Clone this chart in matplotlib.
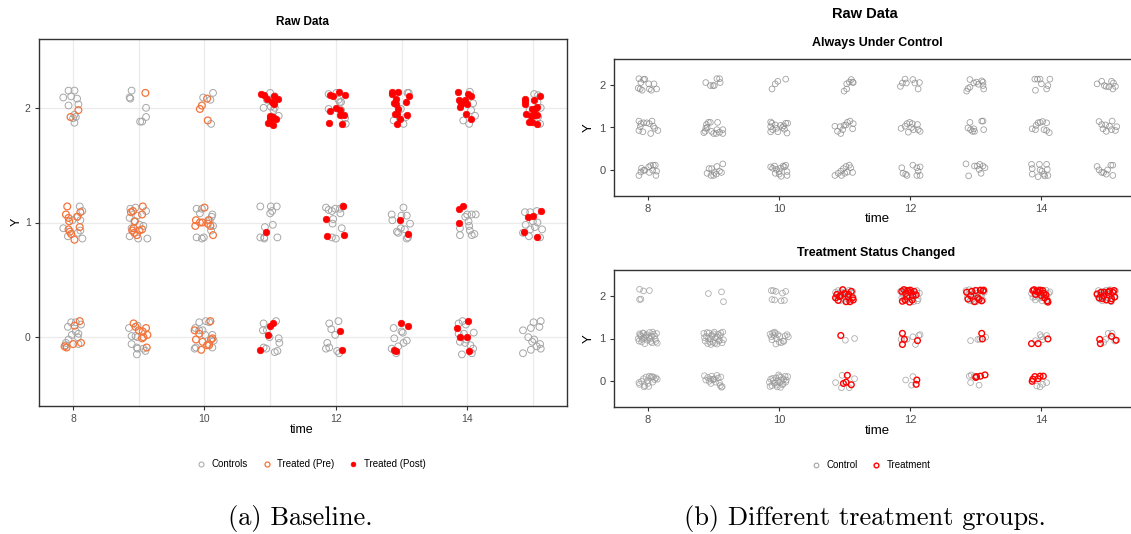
import matplotlib
matplotlib.use("Agg")
import matplotlib.pyplot as plt
from matplotlib.lines import Line2D

plt.rcParams['font.family'] = ['Liberation Sans', 'DejaVu Sans']

W, H = 1131, 534

# ---------------- (a) Baseline: jittered values ----------------
base_ctrl_x = [7.85, 7.93, 8.02, 7.97, 8.06, 7.93, 8.08, 8.02, 8.04, 8.02, 8.00,
               8.86, 8.89, 8.87, 9.11, 9.02, 9.05, 9.11,
               9.98, 10.09, 10.13, 10.10,
               11.00, 11.07, 10.95, 10.90, 11.05, 11.07, 11.13, 11.01,
               11.89, 12.01, 12.06, 12.08, 11.89, 12.08, 12.14, 12.15, 12.04,
               13.09, 13.11, 12.99, 12.88, 13.03, 13.07,
               14.04, 14.09, 14.06, 14.12, 13.94, 14.03,
               15.02, 15.08, 15.12, 15.07, 14.95, 15.11, 15.08,
               7.85, 8.10, 8.14, 8.11, 8.07, 7.99, 8.11, 7.92, 8.14, 8.07,
               8.87, 8.95, 9.11, 8.86, 8.98, 8.93, 9.01, 9.07, 8.89, 8.86, 8.99, 9.13,
               9.88, 9.93, 9.96, 10.12, 10.11, 10.08, 10.13, 10.10, 9.88, 9.96, 9.99,
               10.85, 11.01, 11.10, 11.03, 11.00, 11.04, 10.92, 10.85, 10.91, 10.91, 11.11,
               11.85, 11.89, 11.94, 11.99, 12.06, 12.11, 12.07, 11.95, 11.96, 12.09, 11.94, 12.00,
               13.03, 12.85, 12.86, 13.00, 13.08, 13.13, 12.99, 13.05, 12.93, 12.95, 13.08, 13.10,
               13.97, 14.00, 14.07, 14.13, 14.02, 14.03, 13.89, 14.04, 14.07, 14.11, 13.89,
               14.88, 14.96, 15.06, 14.89, 15.00, 15.07, 15.03, 14.96, 14.85, 14.94, 15.11, 15.14,
               7.92, 7.97, 8.04, 8.12, 8.04, 8.08, 7.98, 8.07, 7.93, 7.89, 7.89, 8.08,
               8.85, 8.98, 8.89, 8.95, 8.98, 8.89, 8.97, 8.98, 9.07, 9.10, 8.97,
               9.92, 10.02, 10.07, 9.86, 9.92, 9.97, 10.01, 10.12, 10.14, 9.87, 9.85, 10.06, 10.12,
               10.90, 11.09, 10.89, 10.95, 11.13, 10.99, 11.14, 10.90, 10.94, 11.07, 11.11,
               11.90, 12.04, 11.93, 11.99, 11.87, 11.85, 11.90, 12.02, 12.05,
               12.88, 12.89, 13.00, 13.02, 13.08, 13.03, 12.95, 12.85, 12.92,
               13.87, 13.93, 13.98, 14.10, 13.87, 13.95, 13.89, 13.97, 14.05, 14.09, 13.92, 14.07, 13.99,
               15.01, 15.12, 14.85, 14.97, 15.10, 14.93, 15.02, 14.99, 15.11, 15.12, 14.97, 14.85, 15.06]
base_ctrl_y = [2.09, 2.15, 2.15, 2.10, 2.08, 2.02, 2.03, 1.94, 1.92, 1.87, 1.91,
               2.09, 2.15, 2.08, 2.00, 1.88, 1.88, 1.92,
               2.09, 2.07, 2.13, 1.86,
               2.13, 2.10, 2.07, 2.00, 1.98, 2.00, 1.93, 2.01,
               2.12, 2.13, 2.05, 2.05, 1.99, 1.98, 1.91, 1.86, 2.07,
               2.13, 2.13, 1.99, 1.89, 1.86, 1.92,
               2.14, 2.04, 1.98, 1.93, 1.89, 1.86,
               2.12, 2.11, 2.00, 2.05, 1.98, 1.86, 1.92,
               0.95, 1.14, 1.10, 1.02, 1.05, 1.02, 0.93, 0.88, 0.86, 0.91,
               1.12, 1.13, 1.10, 1.04, 1.06, 1.01, 0.98, 0.97, 0.95, 0.88, 0.86, 0.86,
               1.12, 1.08, 1.12, 1.07, 1.05, 1.02, 0.97, 0.93, 0.87, 0.86, 0.87,
               1.14, 1.14, 1.14, 1.10, 1.08, 0.98, 0.96, 0.87, 0.87, 0.86, 0.87,
               1.13, 1.11, 1.10, 1.12, 1.12, 1.14, 1.08, 0.99, 1.03, 0.95, 0.87, 0.86,
               1.13, 1.07, 1.02, 1.06, 1.06, 0.99, 0.95, 0.94, 0.92, 0.91, 0.86, 0.87,
               1.05, 1.07, 1.07, 1.07, 1.01, 0.97, 0.95, 0.93, 0.89, 0.90, 0.89,
               1.09, 1.09, 1.10, 0.98, 1.01, 1.00, 0.96, 0.94, 0.91, 0.88, 0.87, 0.94,
               0.09, 0.13, 0.13, 0.11, 0.05, 0.03, 0.02, 0.00, -0.02, -0.05, -0.07, -0.06,
               0.08, 0.10, 0.01, 0.01, 0.00, -0.06, -0.09, -0.10, -0.10, -0.12, -0.15,
               0.13, 0.14, 0.13, 0.08, 0.06, 0.06, 0.02, 0.02, -0.03, -0.09, -0.10, -0.06, -0.09,
               0.12, 0.14, 0.06, 0.06, -0.01, 0.00, -0.05, -0.09, -0.10, -0.13, -0.12,
               0.12, 0.14, 0.07, 0.02, -0.05, -0.10, -0.09, -0.12, -0.14,
               0.08, -0.01, 0.05, 0.04, -0.03, -0.05, -0.08, -0.10, -0.14,
               0.12, 0.14, 0.11, 0.04, 0.03, 0.03, -0.04, -0.05, -0.07, -0.10, -0.15, -0.14, -0.02,
               0.13, 0.14, 0.06, 0.08, 0.09, 0.00, -0.02, -0.04, -0.06, -0.10, -0.11, -0.14, -0.08]

base_pre_x = [8.08, 7.96, 9.10, 10.04, 9.96, 9.93, 10.05,
              7.91, 7.89, 7.93, 7.94, 8.11, 8.06, 8.10, 7.93, 7.95, 7.97, 8.02,
              8.91, 8.88, 9.06, 9.05, 8.92, 8.90, 8.93, 8.97, 9.01, 9.05, 8.94,
              10.00, 9.87, 9.86, 9.93, 9.97, 10.06, 10.09, 10.13, 10.05,
              8.02, 8.10, 8.12, 8.00, 7.87, 7.90,
              8.92, 8.95, 9.11, 9.00, 9.06, 9.13, 9.07, 9.05, 9.12,
              10.09, 9.85, 9.92, 9.87, 9.97, 10.10, 10.12, 10.04, 10.07, 9.95]
base_pre_y = [1.98, 1.92, 2.13, 2.08, 2.02, 1.99, 1.89,
              1.14, 1.07, 1.04, 1.01, 1.09, 1.05, 0.96, 0.94, 0.92, 0.90, 0.85,
              1.10, 1.09, 1.14, 1.07, 0.95, 0.93, 0.91, 0.89, 0.93, 0.94, 1.01,
              1.13, 1.02, 0.97, 1.00, 1.00, 1.02, 0.97, 0.89, 0.99,
              0.10, 0.14, -0.05, -0.06, -0.08, -0.09,
              0.12, 0.09, 0.08, 0.06, 0.05, 0.02, 0.00, -0.01, -0.09,
              0.14, 0.06, 0.03, -0.02, -0.04, -0.02, -0.01, -0.07, -0.07, -0.11]

base_post_x = [10.86, 10.90, 10.95, 11.06, 11.12, 11.03, 11.06, 10.99, 11.04, 11.01, 11.09, 10.96, 11.05, 11.00,
               11.91, 11.95, 12.05, 12.14, 12.01, 11.91, 12.07, 12.07, 12.12, 11.90, 12.10,
               12.85, 12.86, 12.95, 12.91, 12.88, 12.92, 12.94, 12.90, 12.93, 12.97, 12.93, 13.07, 13.12, 13.08,
               13.86, 13.87, 13.89, 13.96, 13.99, 14.02, 14.06, 13.98, 14.06, 13.90,
               14.88, 14.88, 14.88, 15.01, 15.11, 15.06, 14.98, 15.03, 14.89, 14.97, 15.02, 15.07, 14.94, 14.98, 15.06,
               10.93, 12.11, 11.85, 11.86, 12.13, 12.97, 13.10, 13.87, 13.94, 13.87,
               14.93, 15.00, 15.13, 14.86, 15.06,
               11.00, 11.05, 10.97, 10.85, 12.07, 12.09, 12.99, 13.10, 12.89, 12.92,
               14.02, 13.85, 13.89, 14.00, 14.03]
base_post_y = [2.12, 2.11, 2.08, 2.10, 2.08, 2.05, 2.03, 1.93, 1.92, 1.90, 1.90, 1.87, 1.85, 1.91,
               2.11, 2.10, 2.14, 2.11, 2.00, 1.97, 1.98, 1.94, 1.94, 1.87, 1.86,
               2.14, 2.12, 2.14, 2.08, 2.04, 2.03, 1.99, 1.95, 1.95, 1.90, 1.86, 2.05, 2.10, 1.94,
               2.14, 2.07, 2.01, 2.07, 2.03, 2.12, 2.10, 1.95, 1.90, 2.03,
               2.08, 2.06, 2.03, 2.07, 2.10, 2.01, 1.99, 1.99, 1.95, 1.93, 1.94, 1.94, 1.88, 1.88, 1.86,
               0.92, 1.14, 1.03, 0.88, 0.89, 1.02, 0.90, 1.12, 1.14, 1.00,
               1.05, 1.06, 1.10, 0.92, 0.87,
               0.10, 0.12, 0.02, -0.11, 0.05, -0.11, 0.12, 0.10, -0.11, -0.12,
               0.14, 0.08, 0.00, 0.00, -0.12]

# ---------------- (b) Always Under Control ----------------
always_x = [7.86, 7.89, 7.93, 7.95, 7.88, 7.85, 7.91, 8.01, 8.02, 8.05, 8.09, 8.13,
            7.86, 7.93, 7.89, 7.98, 8.02, 8.06, 8.08, 8.10, 8.15, 7.86, 7.92, 8.04, 7.88,
            7.86, 7.89, 7.90, 7.93, 7.95, 8.01, 8.04, 8.08, 8.11, 8.02, 8.07, 8.13, 8.12,
            8.88, 8.95, 8.99, 9.01, 9.05, 9.09, 9.10,
            8.85, 8.87, 8.88, 8.89, 8.92, 8.95, 8.90, 8.97, 9.00, 9.04, 9.06, 9.05, 9.09, 9.14, 9.14,
            8.90, 8.93, 8.97, 8.96, 9.00, 9.04, 9.05, 9.09, 9.12, 9.14, 9.01,
            9.89, 9.94, 9.98, 10.10,
            9.87, 9.89, 9.87, 9.90, 9.87, 9.94, 9.96, 9.98, 10.02, 10.07, 10.10, 10.13, 10.08, 10.12, 10.05,
            9.87, 9.90, 9.93, 9.96, 10.00, 9.94, 10.02, 10.06, 10.10, 10.12, 10.12, 10.03, 10.00, 10.08,
            11.03, 10.99, 11.07, 11.10, 11.13, 11.12, 11.03,
            10.85, 10.89, 10.93, 10.97, 10.99, 11.04, 11.08, 11.13, 11.12, 10.94, 11.02,
            10.85, 10.90, 10.94, 10.98, 11.02, 11.07, 11.09, 11.12, 11.00, 10.95, 11.04,
            11.85, 11.88, 11.92, 11.94, 12.04, 12.07, 12.14, 12.12,
            11.86, 11.92, 11.95, 11.99, 12.03, 11.97, 12.05, 12.11, 12.12, 12.15, 12.02,
            11.87, 11.89, 11.93, 11.95, 12.04, 12.10, 12.15, 12.12, 12.10, 12.15,
            12.86, 12.88, 12.91, 12.91, 12.97, 13.01, 13.09, 13.11, 13.11, 13.12, 13.04,
            12.91, 12.88, 12.92, 12.95, 12.98, 12.97, 13.09, 13.11, 13.12,
            12.85, 12.89, 12.98, 13.02, 13.06, 13.05, 13.11, 13.14, 13.08,
            13.90, 13.94, 13.98, 14.00, 14.13, 14.10, 14.08, 13.91,
            13.86, 13.91, 13.92, 13.95, 13.98, 14.02, 14.08, 14.04, 14.08, 14.12,
            13.85, 13.86, 13.86, 13.97, 13.98, 14.01, 14.04, 14.05, 14.08, 14.09, 14.10, 13.95,
            14.85, 14.92, 14.99, 15.03, 15.07, 15.10, 15.13, 15.09, 14.96,
            14.88, 14.92, 14.94, 14.99, 15.04, 15.08, 15.07, 15.13, 15.15, 14.98,
            14.85, 14.88, 14.92, 14.95, 14.99, 15.06, 15.09, 15.09, 15.01]
always_y = [2.14, 2.05, 2.12, 2.13, 1.90, 1.92, 1.87, 2.02, 1.90, 1.87, 2.02, 1.90,
            1.15, 1.11, 1.09, 1.11, 1.09, 1.15, 1.03, 0.98, 0.93, 0.93, 0.90, 0.86, 1.02,
            -0.12, -0.04, 0.05, 0.00, 0.00, 0.08, 0.11, 0.12, 0.12, -0.05, 0.00, -0.02, -0.12,
            2.05, 1.98, 1.98, 1.98, 2.14, 2.14, 2.05,
            0.88, 0.91, 0.98, 1.07, 1.12, 1.12, 1.00, 0.91, 0.86, 0.86, 1.12, 0.95, 0.89, 0.95, 0.86,
            -0.07, 0.04, 0.04, -0.12, -0.12, -0.09, 0.09, -0.02, -0.05, 0.15, -0.05,
            1.90, 2.02, 2.08, 2.13,
            1.13, 1.10, 1.02, 0.95, 0.90, 1.06, 0.98, 0.90, 1.05, 1.04, 1.10, 1.10, 0.96, 0.87, 1.00,
            0.08, 0.05, 0.10, 0.02, -0.03, -0.07, 0.05, 0.10, 0.12, -0.03, -0.12, -0.14, -0.09, 0.08,
            1.90, 1.85, 2.06, 2.12, 2.05, 2.06, 2.02,
            1.03, 0.91, 1.02, 0.95, 1.05, 1.12, 1.15, 1.09, 0.97, 0.86, 1.06,
            -0.12, -0.07, -0.02, 0.04, 0.09, 0.12, 0.06, -0.05, -0.07, -0.12, -0.04,
            1.96, 2.04, 2.13, 2.04, 2.12, 2.04, 2.05, 1.90,
            0.98, 1.03, 1.09, 1.12, 1.09, 0.89, 0.95, 1.07, 0.95, 0.91, 1.00,
            0.06, -0.07, -0.09, -0.12, 0.12, 0.06, 0.08, -0.02, -0.12, -0.12,
            1.85, 1.91, 1.94, 2.12, 2.04, 2.06, 2.09, 2.06, 1.98, 1.90, 2.01,
            1.12, 0.99, 0.95, 0.91, 0.91, 0.97, 1.15, 1.15, 0.95,
            0.15, -0.13, 0.10, 0.10, 0.14, 0.02, 0.10, 0.06, -0.07,
            2.13, 2.13, 2.13, 2.02, 2.13, 1.98, 1.90, 1.87,
            0.97, 0.95, 1.05, 1.11, 1.12, 1.14, 1.11, 0.95, 0.93, 0.88,
            0.14, 0.04, -0.09, 0.14, 0.01, -0.02, -0.09, -0.13, 0.14, 0.02, -0.12, -0.15,
            2.02, 2.08, 1.96, 1.95, 2.08, 2.04, 1.96, 1.90, 1.98,
            1.14, 1.07, 0.97, 0.91, 1.03, 1.15, 0.95, 0.93, 1.02, 1.06,
            0.09, 0.01, -0.05, -0.05, -0.09, 0.12, 0.12, -0.12, 0.01]

# ---------------- (b) Treatment Status Changed ----------------
chg_ctrl_x = [7.87, 7.93, 8.02, 7.87, 7.89,
              7.85, 7.88, 7.90, 7.93, 7.96, 7.99, 8.02, 8.05, 8.08, 8.11, 8.14,
              7.86, 7.89, 7.92, 7.95, 7.98, 8.01, 8.04, 8.07, 8.10, 8.13,
              7.87, 7.91, 7.94, 7.97, 8.03, 8.06, 8.12,
              7.86, 7.87, 7.90, 7.93, 7.95, 7.97, 8.00, 8.02, 8.04, 8.06, 8.08, 8.10, 8.12, 8.14,
              7.94, 8.01, 8.07, 7.99,
              8.92, 9.12, 9.15,
              8.85, 8.87, 8.89, 8.91, 8.93, 8.95, 8.97, 8.99, 9.01, 9.03, 9.05, 9.07, 9.09, 9.11, 9.13, 9.15,
              8.86, 8.90, 8.94, 8.98, 9.02, 9.06, 9.10, 9.14, 8.92, 9.00, 9.08, 8.96,
              8.86, 8.88, 8.91, 8.93, 8.95, 8.97, 8.99, 9.01, 9.03, 9.05, 9.07, 9.09, 9.11, 9.13,
              8.96, 9.00, 9.10, 9.12,
              9.88, 9.91, 9.95, 10.05, 10.10, 9.89, 9.93, 10.03, 10.08,
              9.86, 9.88, 9.90, 9.92, 9.94, 9.96, 9.98, 10.00, 10.03, 10.06, 10.09, 10.12, 10.14,
              9.89, 9.95, 10.01, 10.07, 9.93,
              9.85, 9.87, 9.89, 9.91, 9.93, 9.95, 9.97, 9.99, 10.01, 10.03, 10.05, 10.07, 10.09,
              10.11, 10.13, 9.86, 9.90, 9.94, 9.98, 10.02, 10.06, 10.10, 9.96, 10.00, 10.04,
              10.86, 10.88, 10.90, 10.93, 10.95, 10.97, 10.99, 11.01, 11.03, 11.05, 11.07, 11.09,
              11.11, 11.13, 10.89, 10.94, 11.00, 11.06, 11.12, 11.02,
              11.01, 11.15, 10.96, 10.86, 10.95, 11.07, 11.15,
              11.85, 11.87, 11.89, 11.92, 11.94, 11.96, 11.98, 12.01, 12.03, 12.05, 12.08, 12.10,
              12.12, 12.14, 11.90, 11.97, 12.04, 12.11, 11.93, 12.07,
              11.86, 11.95, 12.04, 12.13, 12.15, 12.08, 11.93, 12.04, 12.02,
              12.85, 12.87, 12.89, 12.91, 12.93, 12.95, 12.97, 12.99, 13.01, 13.03, 13.05, 13.07,
              13.09, 13.11, 13.13, 12.90, 12.96, 13.02, 13.08, 12.94,
              12.92, 13.03, 13.06, 13.15, 12.90, 12.93, 12.92, 13.05, 12.98,
              13.85, 13.87, 13.89, 13.91, 13.93, 13.95, 13.97, 13.99, 14.01, 14.03, 14.05, 14.07,
              14.09, 14.11, 14.13, 13.90, 13.96, 14.02, 14.08, 14.00,
              13.91, 13.98, 14.00, 14.08, 14.02, 13.93, 13.98, 14.02, 14.08,
              14.85, 14.87, 14.89, 14.91, 14.93, 14.95, 14.97, 14.99, 15.01, 15.03, 15.05, 15.07,
              15.09, 15.11, 15.13, 14.90, 14.96, 15.02, 15.08, 15.00,
              14.95, 15.02, 15.08, 15.12, 14.98]
chg_ctrl_y = [2.15, 2.11, 2.12, 1.91, 1.92,
              1.00, 1.08, 0.92, 1.12, 1.03, 0.96, 1.14, 1.05, 1.10, 0.98, 0.89,
              0.94, 1.05, 1.13, 0.88, 1.09, 1.02, 0.93, 1.15, 1.06, 1.12,
              1.11, 0.98, 1.01, 1.07, 0.99, 0.90, 0.93,
              -0.03, -0.07, 0.00, 0.06, -0.10, 0.10, -0.05, 0.12, 0.09, 0.11, 0.10, 0.04, 0.08, 0.05,
              -0.13, -0.12, -0.02, 0.02,
              2.05, 2.09, 1.86,
              1.12, 0.94, 1.05, 0.88, 1.13, 0.99, 1.08, 0.91, 1.15, 1.02, 0.87, 1.10, 0.96, 1.13, 0.90, 0.97,
              1.02, 1.14, 0.92, 1.06, 0.89, 1.03, 1.07, 1.15, 1.00, 1.11, 0.94, 0.86,
              0.13, 0.03, 0.09, 0.00, 0.05, 0.12, 0.04, 0.06, -0.02, 0.14, 0.08, -0.04, 0.10, -0.12,
              -0.05, 0.04, -0.10, -0.14,
              2.12, 2.12, 2.10, 2.06, 2.10, 1.91, 1.90, 1.88, 1.89,
              1.10, 1.04, 1.13, 1.07, 1.12, 1.00, 1.09, 0.92, 0.90, 0.94, 1.06, 1.09, 1.04,
              0.97, 0.87, 1.05, 0.93, 1.15,
              -0.02, 0.05, -0.10, 0.02, -0.05, 0.08, -0.13, 0.15, -0.03, 0.10, -0.08, 0.05, 0.12,
              0.03, 0.11, -0.12, 0.07, -0.03, 0.00, -0.14, -0.06, -0.02, -0.09, 0.11, 0.02,
              2.08, 1.95, 2.12, 1.88, 2.05, 2.14, 1.92, 2.09, 1.86, 2.01, 2.13, 1.90,
              2.06, 1.97, 2.02, 2.09, 1.99, 1.91, 2.10, 2.04,
              0.96, 1.00, 0.14, -0.03, -0.15, -0.15, 0.06,
              2.10, 1.95, 2.05, 2.14, 1.88, 2.02, 2.12, 1.92, 2.09, 1.86, 2.00, 2.12,
              1.93, 2.06, 1.99, 2.07, 1.96, 1.88, 2.11, 2.04,
              0.98, 0.98, 1.04, 1.07, 1.09, 0.86, 0.03, 0.11, -0.09,
              2.12, 1.96, 2.04, 1.88, 2.10, 1.92, 2.00, 2.13, 1.86, 2.06, 1.94, 2.11,
              2.02, 1.90, 2.08, 2.14, 1.87, 1.98, 2.05, 2.02,
              0.95, 0.98, 0.98, 1.03, 0.12, 0.15, -0.03, -0.09, 0.12,
              2.05, 1.96, 2.12, 1.90, 2.02, 2.14, 1.94, 2.07, 1.88, 2.10, 2.00, 2.13,
              1.92, 2.05, 2.09, 1.98, 2.10, 1.95, 1.86, 2.03,
              0.95, 1.09, 1.04, 1.07, 0.97, -0.11, -0.13, -0.07, -0.03,
              2.02, 2.12, 1.92, 2.06, 1.88, 2.10, 1.98, 2.13, 1.90, 2.03, 2.14, 1.86,
              2.08, 1.96, 2.11, 2.00, 2.06, 1.94, 2.02, 2.09,
              0.91, 1.12, 1.12, 0.94, 0.98]

chg_trt_x = [10.86, 10.88, 10.90, 10.94, 10.97, 11.00, 11.02, 11.05, 11.08, 11.10, 11.12, 11.13, 10.92, 11.06,
             10.94, 11.04, 10.98, 11.02, 11.10,
             11.87, 11.90, 11.92, 11.93, 11.96, 11.99, 12.01, 12.04, 12.06, 12.09, 11.88, 11.95, 12.03, 12.00,
             11.88, 11.88, 11.91, 12.11, 12.10, 12.09,
             12.86, 12.88, 12.94, 12.98, 13.00, 13.03, 13.07, 13.09, 13.11, 13.12, 12.92, 13.05,
             13.09, 13.10, 13.01, 13.07, 13.14, 13.00,
             13.87, 13.89, 13.91, 13.93, 13.95, 13.98, 14.00, 14.02, 14.05, 14.07, 14.09, 14.10, 13.96, 14.04,
             13.85, 13.95, 14.10, 13.87, 13.90, 13.95, 13.98, 14.03, 13.86,
             14.85, 14.88, 14.91, 14.93, 14.96, 14.99, 15.02, 15.04, 15.06, 15.09, 15.11, 15.12, 14.95, 15.07,
             14.89, 14.90, 15.07, 15.14]
chg_trt_y = [1.95, 2.03, 1.89, 2.00, 2.14, 2.05, 1.86, 1.97, 1.86, 2.10, 1.95, 1.90, 1.98, 2.03,
             1.07, 0.14, -0.05, -0.02, -0.08,
             2.10, 2.14, 1.90, 2.05, 2.12, 1.85, 2.08, 2.00, 2.10, 2.02, 1.87, 1.98, 1.90, 2.13,
             1.12, 0.86, 0.98, 0.95, 0.03, -0.07,
             2.08, 1.92, 2.10, 1.86, 2.12, 1.95, 2.13, 1.88, 2.11, 2.13, 2.00, 1.91,
             1.12, 0.99, 0.11, 0.12, 0.15, 0.09,
             2.12, 2.14, 2.03, 2.11, 2.08, 2.13, 2.00, 2.12, 1.95, 2.02, 1.88, 1.85, 2.08, 2.05,
             0.88, 0.88, 0.99, 0.05, 0.11, 0.06, 0.12, 0.12, 0.00,
             2.04, 1.95, 2.08, 1.93, 2.08, 1.90, 2.08, 2.11, 1.88, 2.08, 2.12, 1.97, 2.00, 1.93,
             0.98, 0.88, 1.05, 0.96]

x_ticks = [8, 10, 12, 14]
y_ticks = [0, 1, 2]
grid_x = [8, 9, 10, 11, 12, 13, 14, 15]

GREY_TXT = '#4D4D4D'
FRAME = '#333333'


def ax_rect(x0, x1, y0, y1):
    # pixel box -> figure fraction
    return [x0 / W, 1 - y1 / H, (x1 - x0) / W, (y1 - y0) / H]


def style(ax, tick_size):
    ax.set_xlim(7.48, 15.52)
    ax.set_ylim(-0.6, 2.6)
    ax.set_xticks(x_ticks)
    ax.set_yticks(y_ticks)
    ax.tick_params(length=3, width=0.8, color=FRAME, labelcolor=GREY_TXT,
                   labelsize=tick_size, pad=3)
    for s in ax.spines.values():
        s.set_color(FRAME)
        s.set_linewidth(1.0)
    ax.set_facecolor('white')


fig = plt.figure(figsize=(W / 100, H / 100), dpi=100)

# ---- (a) ----
ax = fig.add_axes(ax_rect(39, 567, 39, 406))
style(ax, 7.5)
for g in grid_x:
    ax.axvline(g, color='#EBEBEB', lw=0.9, zorder=0)
for g in y_ticks:
    ax.axhline(g, color='#EBEBEB', lw=0.9, zorder=0)
ax.scatter(base_ctrl_x, base_ctrl_y, s=24, facecolors='none', edgecolors='#A6A6A6',
           linewidths=0.7, zorder=2)
ax.scatter(base_pre_x, base_pre_y, s=24, facecolors='none', edgecolors='#F4743B',
           linewidths=0.9, zorder=3)
ax.scatter(base_post_x, base_post_y, s=22, facecolors='#FF0000', edgecolors='#FF0000',
           linewidths=0.5, zorder=4)
fig.text(302 / W, 1 - 22 / H, 'Raw Data', ha='center', va='center', fontsize=8.5, fontweight='bold')
fig.text(302 / W, 1 - 430 / H, 'time', ha='center', va='center', fontsize=9)
fig.text(17 / W, 1 - 222 / H, 'Y', ha='center', va='center', fontsize=9, rotation=90)

h_a = [Line2D([], [], ls='none', marker='o', ms=3.6, mfc='none', mec='#A6A6A6', mew=0.7),
       Line2D([], [], ls='none', marker='o', ms=3.6, mfc='none', mec='#F4743B', mew=0.9),
       Line2D([], [], ls='none', marker='o', ms=3.4, mfc='#FF0000', mec='#FF0000', mew=0.5)]
fig.legend(h_a, ['Controls', 'Treated (Pre)', 'Treated (Post)'], loc='center',
           bbox_to_anchor=(311 / W, 1 - 464 / H), ncol=3, frameon=False, fontsize=7,
           handlelength=1.0, handletextpad=0.6, columnspacing=1.4)

# ---- (b) top ----
ax1 = fig.add_axes(ax_rect(614, 1141, 59, 196))
style(ax1, 8)
ax1.scatter(always_x, always_y, s=17, facecolors='none', edgecolors='#8A8A8A',
            linewidths=0.6, alpha=0.8)
fig.text(877 / W, 1 - 219 / H, 'time', ha='center', va='center', fontsize=9.5)
fig.text(589 / W, 1 - 128 / H, 'Y', ha='center', va='center', fontsize=9.5, rotation=90)
fig.text(865 / W, 1 - 14 / H, 'Raw Data', ha='center', va='center', fontsize=10.5, fontweight='bold')
fig.text(877 / W, 1 - 43 / H, 'Always Under Control', ha='center', va='center',
         fontsize=9, fontweight='bold')

# ---- (b) bottom ----
ax2 = fig.add_axes(ax_rect(614, 1141, 270, 407))
style(ax2, 8)
ax2.scatter(chg_ctrl_x, chg_ctrl_y, s=17, facecolors='none', edgecolors='#9A9A9A',
            linewidths=0.6, alpha=0.8, zorder=2)
ax2.scatter(chg_trt_x, chg_trt_y, s=17, facecolors='none', edgecolors='#FF0000',
            linewidths=1.0, zorder=3)
fig.text(877 / W, 1 - 431 / H, 'time', ha='center', va='center', fontsize=9.5)
fig.text(589 / W, 1 - 339 / H, 'Y', ha='center', va='center', fontsize=9.5, rotation=90)
fig.text(876 / W, 1 - 253 / H, 'Treatment Status Changed', ha='center', va='center',
         fontsize=9, fontweight='bold')

h_b = [Line2D([], [], ls='none', marker='o', ms=3.4, mfc='none', mec='#9A9A9A', mew=0.7),
       Line2D([], [], ls='none', marker='o', ms=3.4, mfc='none', mec='#FF0000', mew=1.0)]
fig.legend(h_b, ['Control', 'Treatment'], loc='center', bbox_to_anchor=(871 / W, 1 - 465 / H),
           ncol=2, frameon=False, fontsize=7, handlelength=1.0, handletextpad=0.6,
           columnspacing=1.4)

# ---- captions ----
fig.text(300 / W, 1 - 518 / H, '(a) Baseline.', ha='center', va='center',
         fontsize=19, family='cmr10')
fig.text(865 / W, 1 - 518 / H, '(b) Different treatment groups.', ha='center', va='center',
         fontsize=19, family='cmr10')

fig.savefig('out.png', dpi=100, facecolor='white')
